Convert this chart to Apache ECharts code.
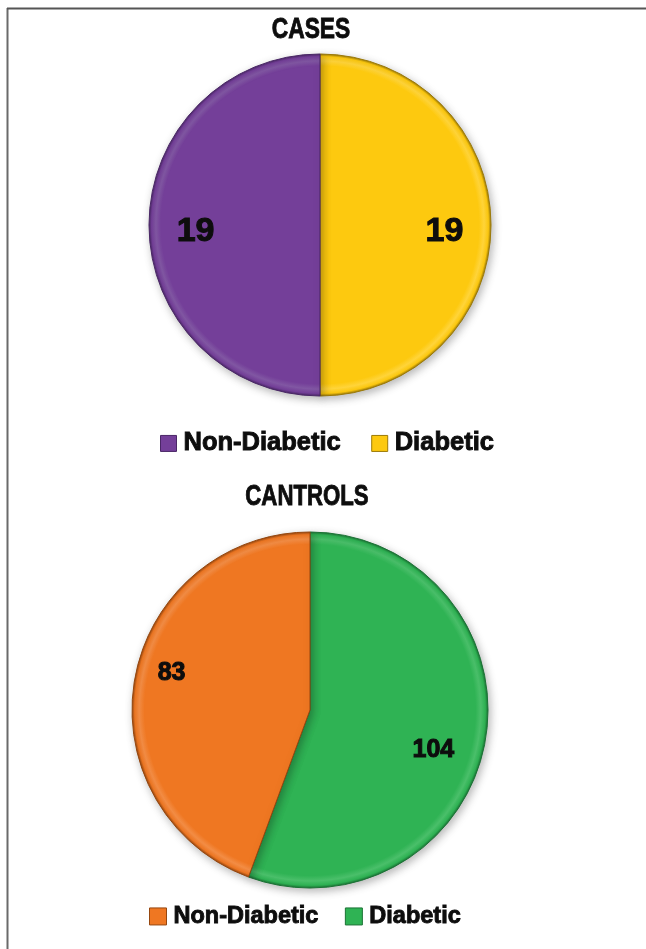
<!DOCTYPE html>
<html>
<head>
<meta charset="utf-8">
<style>
  html, body { margin: 0; padding: 0; background: #fff; }
  #chart { width: 646px; height: 949px; }
</style>
<script src="https://cdn.jsdelivr.net/npm/echarts@6/dist/echarts.min.js"></script>
</head>
<body>
<div id="chart"></div>
<script>
// Group names and counts
const categories = ['Non-Diabetic', 'Diabetic'];
const casesValues = [19, 19];      // Non-Diabetic, Diabetic
const controlsValues = [83, 104];  // Non-Diabetic, Diabetic
const titles = ['CASES', 'CANTROLS'];

const casesColors = { 'Non-Diabetic': '#743f99', 'Diabetic': '#fdc90f' };
const controlsColors = { 'Non-Diabetic': '#ef7722', 'Diabetic': '#2fb354' };
const casesEdges = { 'Non-Diabetic': '#4a2766', 'Diabetic': '#9c7a08' };
const controlsEdges = { 'Non-Diabetic': '#96470f', 'Diabetic': '#1b7335' };
const casesRims = { 'Non-Diabetic': '#8157a3', 'Diabetic': '#ffd43a' };
const controlsRims = { 'Non-Diabetic': '#f38d45', 'Diabetic': '#4abf6a' };

const FONT = '"Liberation Sans", Arial, sans-serif';
const INK = '#0d0d0d';

// bevelled fill: flat colour, soft light rim, dark outer edge
function bevel(center, radius, base, rim, edge) {
  return new echarts.graphic.RadialGradient(center[0], center[1], radius, [
    { offset: 0, color: base },
    { offset: 0.93, color: base },
    { offset: 0.96, color: rim },
    { offset: 0.985, color: base },
    { offset: 1, color: edge }
  ], true);
}

// Slices go clockwise from 12 o'clock: Diabetic first, then Non-Diabetic
function slices(values, colors, rims, edges, center, radius) {
  return ['Diabetic', 'Non-Diabetic'].map(name => ({
    name: name,
    value: values[categories.indexOf(name)],
    itemStyle: {
      color: bevel(center, radius, colors[name], rims[name], edges[name]),
      borderColor: edges[name]
    }
  }));
}

function piePair(opts) {
  const data = slices(opts.values, opts.colors, opts.rims, opts.edges, opts.center, opts.radius);
  return [
    {
      type: 'pie',
      center: opts.center,
      radius: opts.radius,
      startAngle: 90,
      clockwise: true,
      silent: true,
      label: { show: false },
      labelLine: { show: false },
      itemStyle: {
        borderWidth: 1,
        shadowBlur: 8,
        shadowColor: 'rgba(0,0,0,0.28)',
        shadowOffsetX: 2,
        shadowOffsetY: 3
      },
      data: data
    },
    {
      // transparent ring carrying the value labels
      type: 'pie',
      center: opts.center,
      radius: [opts.radius * opts.labelInner, opts.radius],
      startAngle: 90,
      clockwise: true,
      silent: true,
      legendHoverLink: false,
      itemStyle: { color: 'rgba(0,0,0,0)', borderWidth: 0 },
      label: {
        show: true,
        position: 'inside',
        formatter: '{c}',
        color: INK,
        fontFamily: FONT,
        fontWeight: 'bold',
        fontSize: opts.fontSize,
        textBorderColor: INK,
        textBorderWidth: 1
      },
      labelLine: { show: false },
      data: data.map(d => ({
        name: d.name + ' ',
        value: d.value,
        label: { offset: opts.labelShift[d.name] }
      }))
    }
  ];
}

function legendItems(colors, edges) {
  return categories.map(n => ({
    name: n,
    itemStyle: { color: colors[n], borderColor: edges[n], borderWidth: 1 }
  }));
}

function legendText(size) {
  return {
    color: INK, fontFamily: FONT, fontWeight: 'bold', fontSize: size,
    textBorderColor: INK, textBorderWidth: 0.9,
    padding: [0, 0, 0, 2]
  };
}

const chart = echarts.init(document.getElementById('chart'), null, { renderer: 'canvas' });

const casesCenter = [320, 225];
const controlsCenter = [310, 710];

chart.setOption({
  animation: false,
  backgroundColor: '#ffffff',
  legend: [
    {
      left: 155, top: 425,
      itemWidth: 16, itemHeight: 16, itemGap: 30,
      icon: 'rect',
      textStyle: legendText(25.5),
      data: legendItems(casesColors, casesEdges),
      seriesIndex: [0]
    },
    {
      left: 144, top: 899,
      itemWidth: 17, itemHeight: 17, itemGap: 26,
      icon: 'rect',
      textStyle: legendText(23.5),
      data: legendItems(controlsColors, controlsEdges),
      seriesIndex: [2]
    }
  ],
  graphic: [
    { type: 'line', shape: { x1: 7.5, y1: 8, x2: 7.5, y2: 949 }, style: { stroke: '#6a6a6a', lineWidth: 2 } },
    { type: 'line', shape: { x1: 7, y1: 8.5, x2: 646, y2: 8.5 }, style: { stroke: '#555555', lineWidth: 2 } },
    {
      type: 'text', x: 311, y: 30, scaleX: 0.76,
      style: { text: titles[0], font: 'bold 30px ' + FONT, fill: INK, stroke: INK, lineWidth: 0.9, align: 'center', verticalAlign: 'middle' }
    },
    {
      type: 'text', x: 307, y: 497, scaleX: 0.74,
      style: { text: titles[1], font: 'bold 30px ' + FONT, fill: INK, stroke: INK, lineWidth: 0.9, align: 'center', verticalAlign: 'middle' }
    }
  ],
  series: [
    ...piePair({
      values: casesValues, colors: casesColors, rims: casesRims, edges: casesEdges,
      center: casesCenter, radius: 171, fontSize: 34, labelInner: 0.42,
      labelShift: { 'Diabetic': [0, 7], 'Non-Diabetic': [0, 7] }
    }),
    ...piePair({
      values: controlsValues, colors: controlsColors, rims: controlsRims, edges: controlsEdges,
      center: controlsCenter, radius: 178, fontSize: 25, labelInner: 0.5,
      labelShift: { 'Diabetic': [-11, 16], 'Non-Diabetic': [-4, -13] }
    })
  ]
});
</script>
</body>
</html>
